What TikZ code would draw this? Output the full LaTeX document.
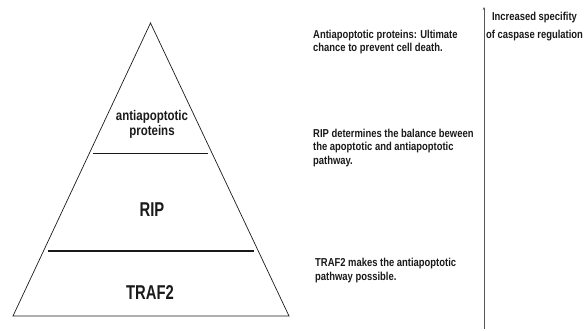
\documentclass[tikz,border=0pt]{standalone}
\usepackage{fontspec}
\setmainfont{Liberation Sans}[FakeStretch=0.82]
\newfontfamily\narrowfont{Liberation Sans}[FakeStretch=0.74]
\usepackage{tikz}
\usetikzlibrary{arrows.meta,positioning}
\definecolor{ink}{HTML}{1A1A1A}
\definecolor{axisgray}{HTML}{555555}
\tikzset{
  note/.style={anchor=north west,align=left,inner sep=0pt,text=ink,
               font=\fontsize{11.5}{13.8}\selectfont\bfseries},
  layerlabel/.style={align=center,inner sep=0pt,text=ink,
                     font=\fontsize{14}{15}\selectfont\bfseries},
  biglabel/.style={inner sep=0pt,text=ink,
                   font=\narrowfont\fontsize{20}{22}\selectfont\bfseries},
  pyrline/.style={draw=ink,line width=0.7pt},
  upaxis/.style={-{Stealth[length=3pt,width=2.6pt]},draw=axisgray,line width=0.9pt}
}
\begin{document}
\begin{tikzpicture}[x=1pt,y=-1pt]
    \path[use as bounding box] (0,0) rectangle (587,331);
    % pyramid
    \coordinate (apex) at (150.5,23);
    \coordinate (baseL) at (13,316);
    \coordinate (baseR) at (289,316);
    \draw[pyrline] (apex) -- (baseR) -- (baseL) -- cycle;
    \coordinate (cutAl) at (93,153);
    \coordinate (cutAr) at (208,153);
    \coordinate (cutBl) at (48,251);
    \coordinate (cutBr) at (254,251);
    \draw[draw=ink,line width=0.9pt] (cutAl) -- (cutAr);
    \draw[draw=ink,line width=1.5pt] (cutBl) -- (cutBr);
    \node[layerlabel] (antiLbl) at (152,124.5) {antiapoptotic\\proteins};
    \node[biglabel] (ripLbl) at (152,210) {RIP};
    \node[biglabel] (trafLbl) at (150,293) {TRAF2};
    % explanations
    \node[note] (antiNote) at (313,29.5)
      {Antiapoptotic proteins: Ultimate\\chance to prevent cell death.};
    \node[note] (ripNote) at (313,128.5)
      {RIP determines the balance beween\\the apoptotic and antiapoptotic\\pathway.};
    \node[note] (trafNote) at (315,258)
      {TRAF2 makes the antiapoptotic\\pathway possible.};
    % specificity axis
    \coordinate (axisLow) at (484,329);
    \coordinate (axisTop) at (484,7);
    \draw[upaxis] (axisLow) -- (axisTop);
    \node[note,anchor=north,align=center,font=\fontsize{11.5}{18}\selectfont\bfseries]
      (axisLbl) at (534.5,11.5) {Increased specifity\\of caspase regulation};
  \end{tikzpicture}
\end{document}
